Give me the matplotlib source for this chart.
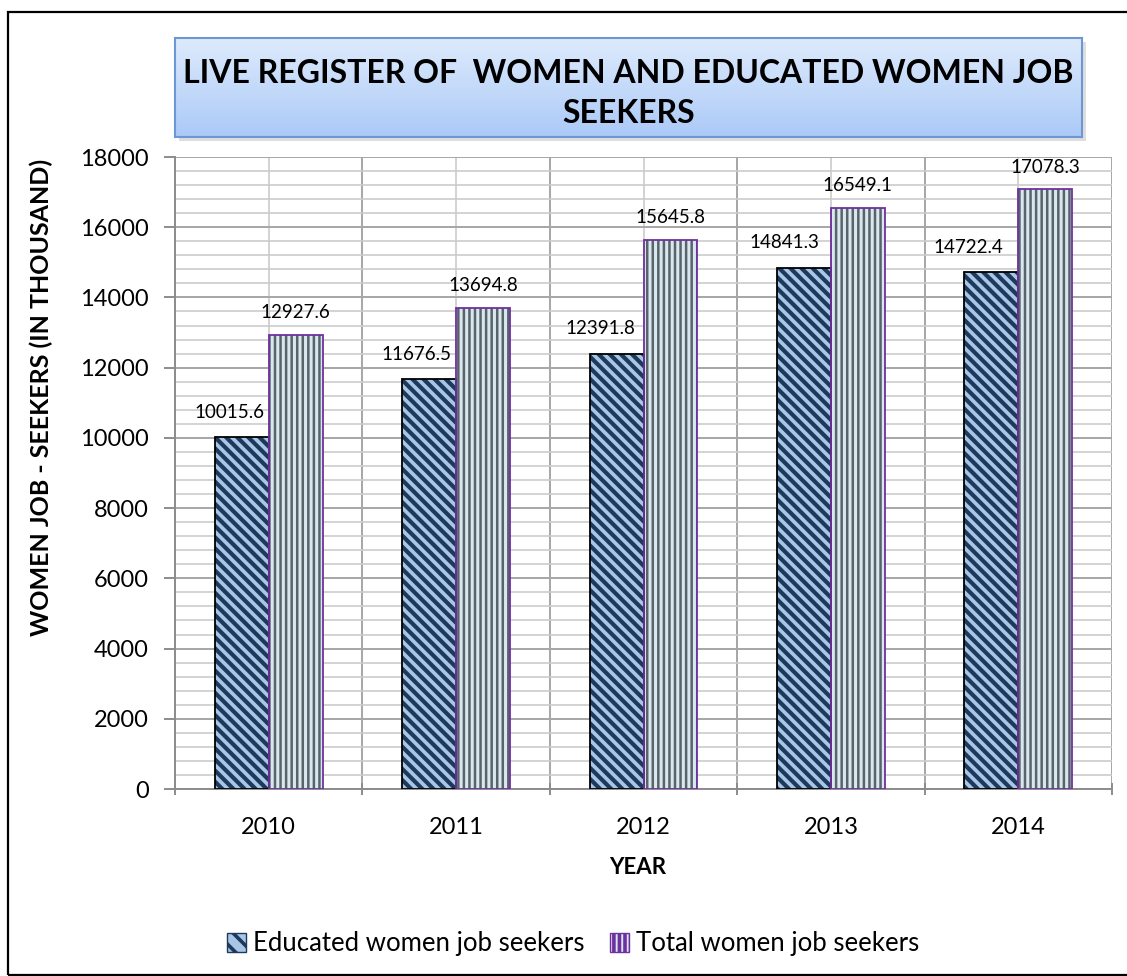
import numpy as np
import matplotlib
matplotlib.use("Agg")
import matplotlib.pyplot as plt
from matplotlib.patches import Rectangle

# data
years = ['2010', '2011', '2012', '2013', '2014']
educated = [10015.6, 11676.5, 12391.8, 14841.3, 14722.4]
total = [12927.6, 13694.8, 15645.8, 16549.1, 17078.3]
series_names = ['Educated women job seekers', 'Total women job seekers']
title_lines = 'LIVE REGISTER OF  WOMEN AND EDUCATED WOMEN JOB\nSEEKERS'

plt.rcParams['font.family'] = ['Lato', 'DejaVu Sans']
plt.rcParams['hatch.linewidth'] = 2.6

W, H = 1127, 976
fig = plt.figure(figsize=(W / 100, H / 100), dpi=100)

def fx(px):
    return px / W

def fy(py):
    return 1 - py / H

# outer frame
fig.patches.append(Rectangle((fx(8), fy(975)), fx(1140 - 8), 963 / H, transform=fig.transFigure,
                             fill=False, edgecolor='black', linewidth=1.6))

# main axes
ax = fig.add_axes([fx(175), fy(789), fx(1112 - 175), (789 - 157) / H])
x = np.arange(len(years))
bw = 0.288

edu_face, edu_hatch = '#a9c6e6', '#1d3a5c'
tot_face, tot_hatch = '#d8e8ee', '#59636a'

# educated: light blue with navy diagonal stripes
with plt.rc_context({'hatch.linewidth': 3.0}):
    ax.bar(x - bw / 2, educated, bw, color=edu_face, edgecolor=edu_hatch, hatch='\\\\\\', linewidth=0, zorder=3)
ax.bar(x - bw / 2, educated, bw, color='none', edgecolor='black', linewidth=1.3, zorder=4)
# total: pale blue with dark grey vertical stripes
with plt.rc_context({'hatch.linewidth': 1.8}):
    ax.bar(x + bw / 2, total, bw, color=tot_face, edgecolor=tot_hatch, hatch='|||', linewidth=0, zorder=3)
ax.bar(x + bw / 2, total, bw, color='none', edgecolor='#7030a0', linewidth=1.3, zorder=4)

# data labels
edu_dx = [-12, -13, -16, -20, -23]
for i in range(len(years)):
    ax.annotate(f'{educated[i]:.1f}', (x[i] - bw / 2, educated[i]), xytext=(edu_dx[i] * 0.72, 18),
                textcoords='offset points', ha='center', va='center', fontsize=13.5)
    ax.annotate(f'{total[i]:.1f}', (x[i] + bw / 2, total[i]), xytext=(0, 16),
                textcoords='offset points', ha='center', va='center', fontsize=13.5)

ax.set_xlim(-0.5, len(years) - 0.5)
ax.set_ylim(0, 18000)
ax.set_yticks(np.arange(0, 18001, 2000))
ax.set_yticks(np.arange(0, 18001, 400), minor=True)
ax.set_xticks(np.arange(-0.5, len(years), 1.0))
ax.set_xticks(x, minor=True)
ax.set_xticklabels([''] * (len(years) + 1))
ax.set_xticklabels(years, minor=True)

ax.grid(which='major', color='#a6a6a6', linewidth=1.4, zorder=0)
ax.grid(which='minor', color='#cccccc', linewidth=1.2, zorder=0)
ax.set_axisbelow(True)

for s in ['top', 'right']:
    ax.spines[s].set_visible(False)
for s in ['left', 'bottom']:
    ax.spines[s].set_color('#8c8c8c')
    ax.spines[s].set_linewidth(1.4)

ax.tick_params(axis='y', which='major', length=8, color='#8c8c8c', width=1.4, labelsize=17, pad=11)
ax.tick_params(axis='y', which='minor', length=0)
ax.tick_params(axis='x', which='major', length=8, color='#8c8c8c', width=1.4, direction='inout')
ax.tick_params(axis='x', which='minor', length=0, labelsize=17, pad=20)

fig.text(fx(41), fy(397), 'WOMEN JOB - SEEKERS (IN THOUSAND)', rotation=90, fontsize=18,
         fontweight='bold', ha='center', va='center')
fig.text(fx(638), fy(867), 'YEAR', fontsize=16, fontweight='bold', ha='center', va='center')

# title box shadow + gradient box
fig.patches.append(Rectangle((fx(179), fy(141)), fx(1082 - 175), (137 - 38) / H, transform=fig.transFigure,
                             facecolor='#c8c8c8', edgecolor='none', alpha=0.6, zorder=-1))
tax = fig.add_axes([fx(175), fy(137), fx(1082 - 175), (137 - 38) / H])
grad = np.linspace(0, 1, 256)
top_c = np.array([0.87, 0.92, 0.99])
bot_c = np.array([0.67, 0.79, 0.97])
img = (top_c + (bot_c - top_c) * grad[:, None]).reshape(256, 1, 3)
tax.imshow(img, aspect='auto', extent=[0, 1, 0, 1], origin='upper')
tax.set_xlim(0, 1)
tax.set_ylim(0, 1)
tax.set_xticks([])
tax.set_yticks([])
for s in tax.spines.values():
    s.set_color('#6d97d2')
    s.set_linewidth(1.5)
tax.text(0.5, 0.44, title_lines, ha='center', va='center', fontsize=23, fontweight='bold',
         linespacing=1.45, transform=tax.transAxes)

# legend
with plt.rc_context({'hatch.linewidth': 1.5}):
    handles = [Rectangle((0, 0), 1, 1, facecolor=edu_face, edgecolor=edu_hatch, hatch='\\\\', linewidth=1),
               Rectangle((0, 0), 1, 1, facecolor=tot_face, edgecolor='#7030a0', hatch='|||', linewidth=1)]
fig.legend(handles, series_names, loc='center', bbox_to_anchor=(fx(573), fy(944)), ncol=2,
           frameon=False, fontsize=18.5, handlelength=0.75, handleheight=0.75, handletextpad=0.25,
           columnspacing=1.0)

fig.savefig('out.png', dpi=100)
